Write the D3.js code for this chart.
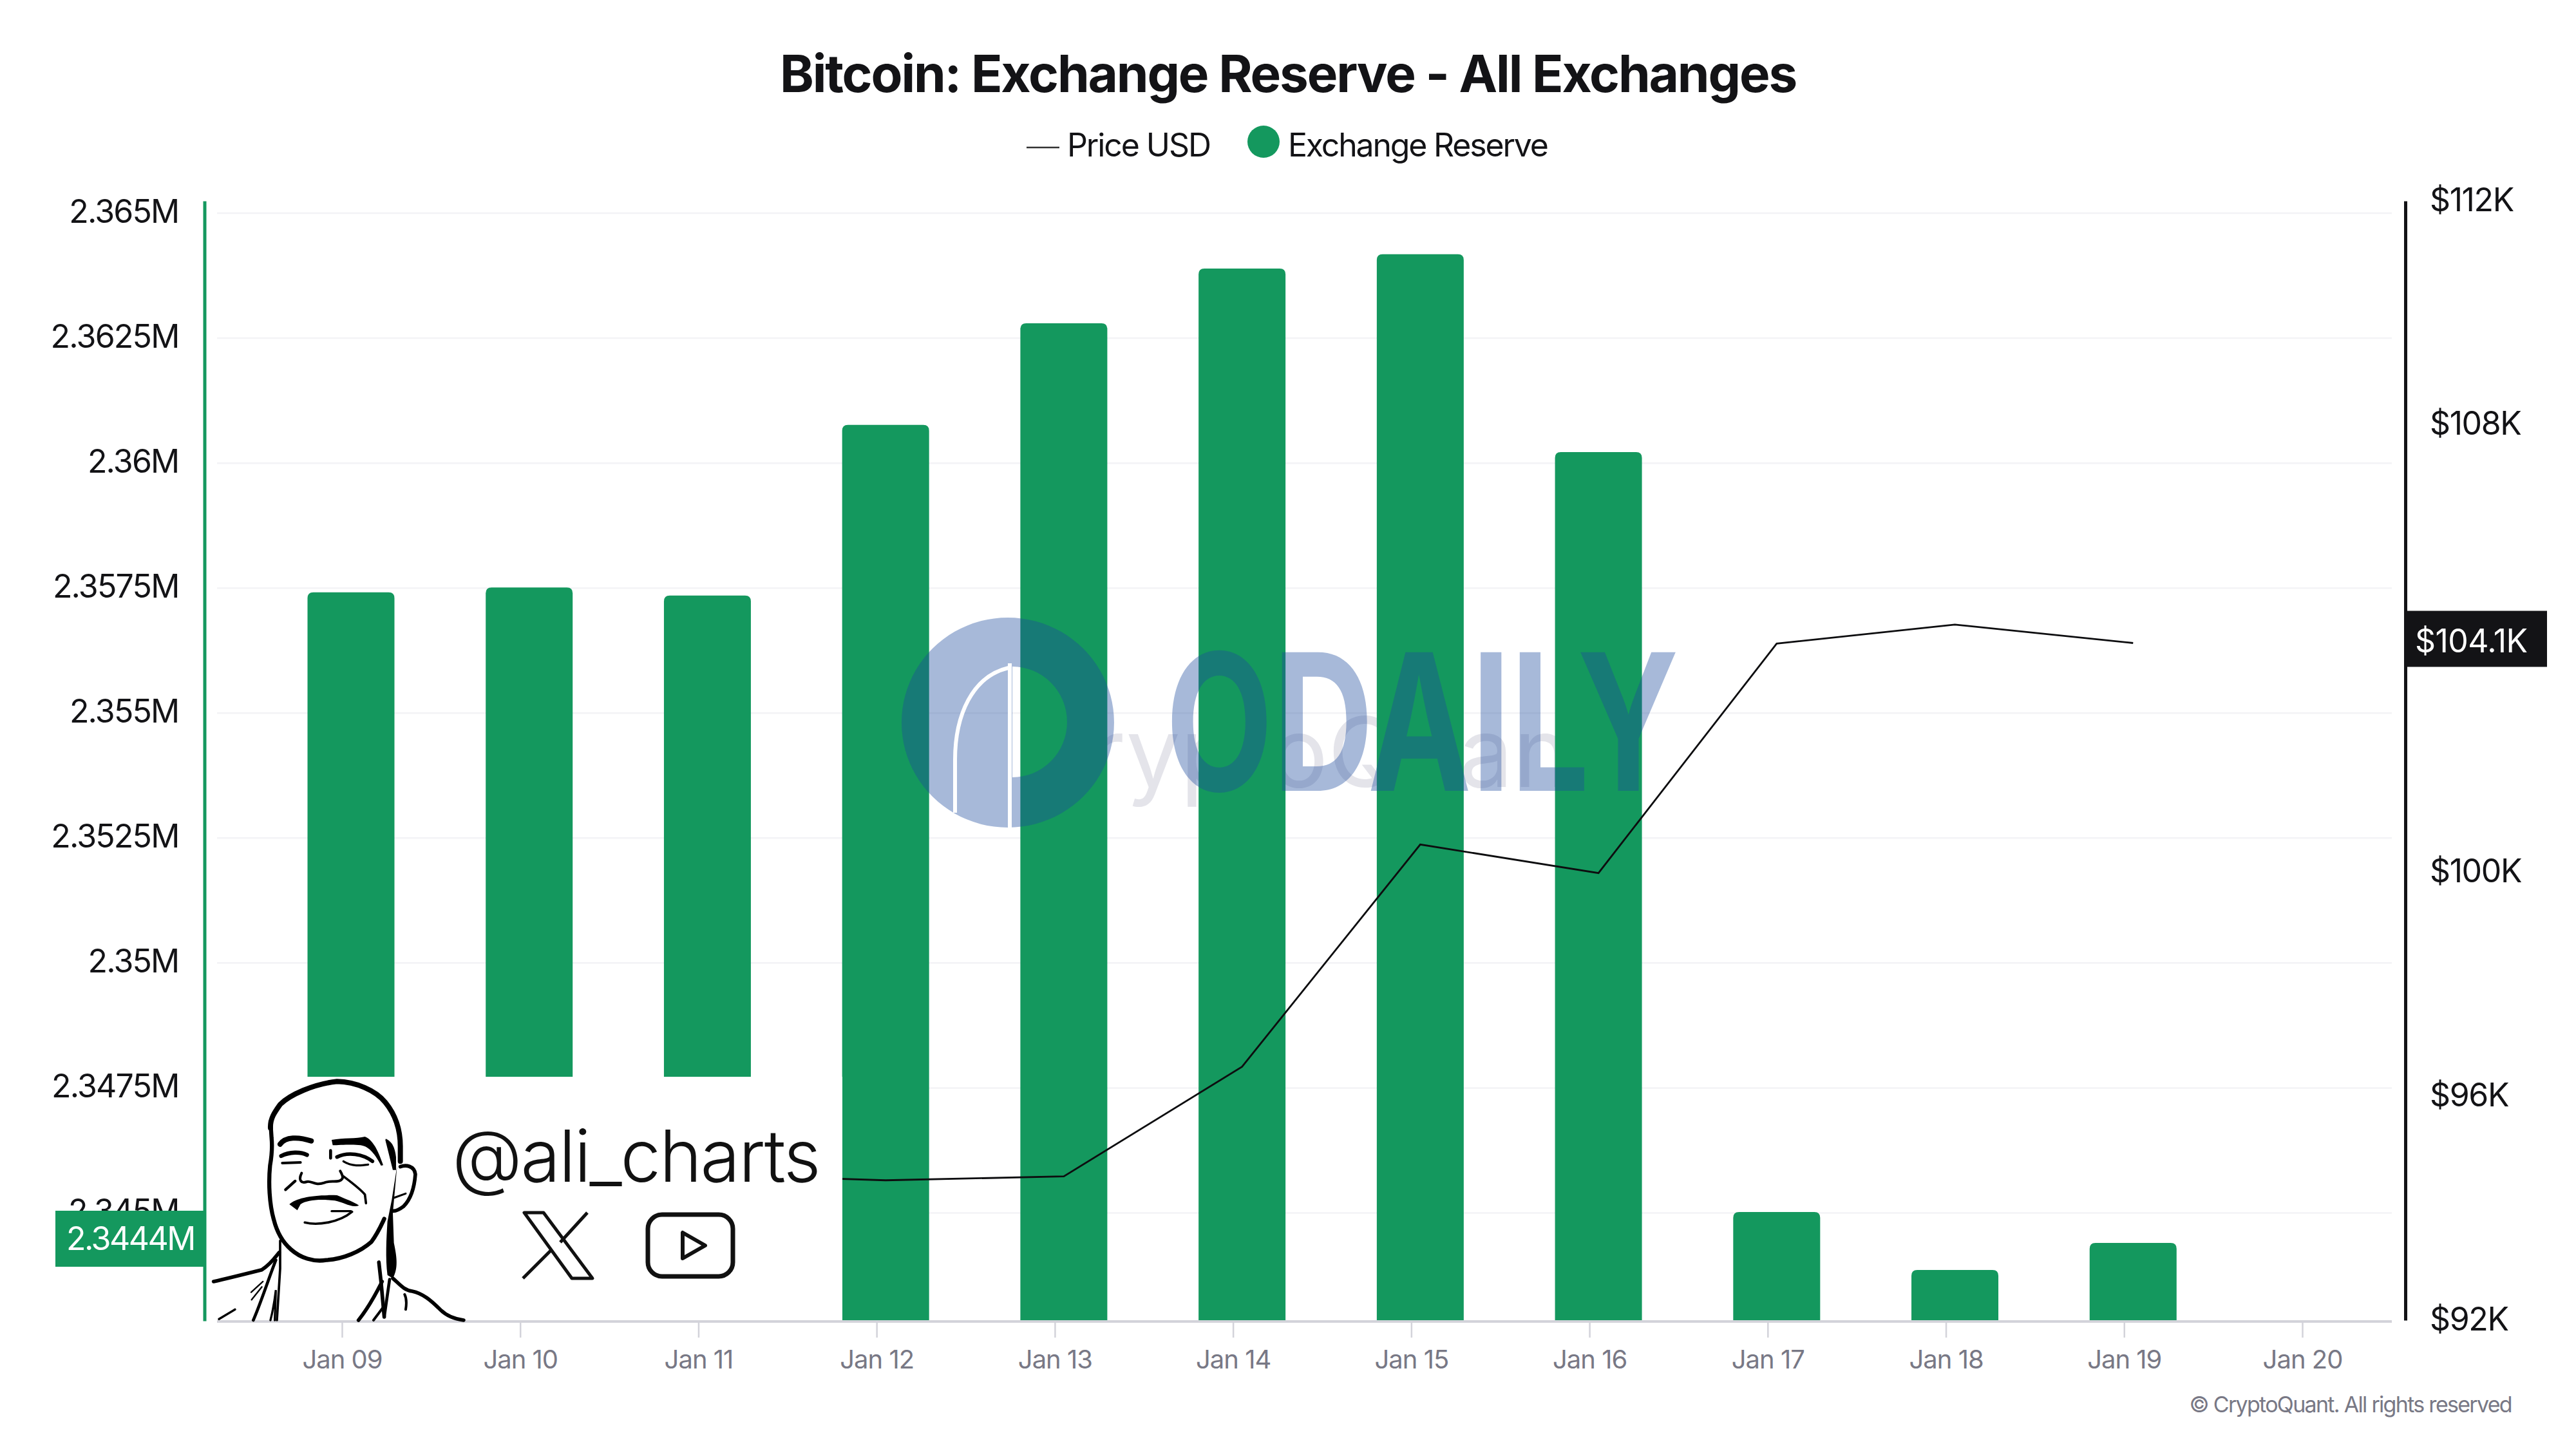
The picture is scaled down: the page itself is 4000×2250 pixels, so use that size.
<!DOCTYPE html>
<html>
<head>
<meta charset="utf-8">
<title>Bitcoin: Exchange Reserve - All Exchanges</title>
<script src="https://cdn.jsdelivr.net/npm/d3@7"></script>
<style>
  html, body { margin: 0; background: #fff; }
  svg { display: block; }
  text { font-family: Inter, "Noto Sans", sans-serif; }
</style>
</head>
<body>
<svg id="chart" width="4000" height="2250"></svg>
<script>
// --- Data ---
const days = ["Jan 09", "Jan 10", "Jan 11", "Jan 12", "Jan 13", "Jan 14", "Jan 15", "Jan 16", "Jan 17", "Jan 18", "Jan 19", "Jan 20"];
const reserve = [2357416, 2357511, 2357351, 2360765, 2362797, 2363892, 2364179, 2360220, 2345018, 2343859, 2344400, null];
// Price before Jan 11 sits behind the white sticker, so it is left out
const price = [null, null, 94.6, 94.5, 94.57, 96.53, 100.5, 99.99, 104.09, 104.43, 104.1, null];
const reserveTicks = [2345000, 2347500, 2350000, 2352500, 2355000, 2357500, 2360000, 2362500, 2365000];
const priceTicks = [92, 96, 100, 108, 112];
const reserveLatest = "2.3444M";
const priceLatest = 104.1;

const GREEN = "#14985e", INK = "#131316", GREY = "#787885";

const svg = d3.select("#chart");
const ls = (em) => `${em}em`;

// --- Scales ---
const x = d3.scalePoint().domain(days).range([545, 3589]);
const yReserve = d3.scaleLinear().domain([2342842, 2365245]).range([2051, 312]);
const yPrice = d3.scaleLinear().domain([92, 112]).range([2050, 312]);

// --- Title + legend ---
svg.append("text").attr("x", 2000).attr("y", 143).attr("text-anchor", "middle")
  .attr("font-size", 80).attr("font-weight", 700).attr("fill", INK)
  .style("letter-spacing", ls(-0.027)).text("Bitcoin: Exchange Reserve - All Exchanges");

svg.append("line").attr("x1", 1594).attr("x2", 1645).attr("y1", 229).attr("y2", 229)
  .attr("stroke", "#333").attr("stroke-width", 2.5);
svg.append("text").attr("x", 1657).attr("y", 243).attr("font-size", 50).attr("fill", INK)
  .style("letter-spacing", ls(-0.042)).text("Price USD");
svg.append("circle").attr("cx", 1962).attr("cy", 220).attr("r", 25).attr("fill", GREEN);
svg.append("text").attr("x", 2000).attr("y", 243).attr("font-size", 50).attr("fill", INK)
  .style("letter-spacing", ls(-0.044)).text("Exchange Reserve");

// --- CryptoQuant watermark, under the bars ---
svg.append("text").attr("x", 1580).attr("y", 1222).attr("font-size", 150).attr("fill", "#e4e4ea")
  .text("CryptoQuant");

// --- Grid ---
svg.append("g").selectAll("line").data(reserveTicks).join("line")
  .attr("x1", 337).attr("x2", 3714)
  .attr("y1", (d) => yReserve(d)).attr("y2", (d) => yReserve(d))
  .attr("stroke", "#f3f3f6").attr("stroke-width", 2.5);

// --- Bars: rounded on top only ---
const barW = 135, barR = 9;
svg.append("g").selectAll("path").data(days.map((d, i) => ({ d, v: reserve[i] })).filter((b) => b.v !== null))
  .join("path")
  .attr("fill", GREEN)
  .attr("d", (b) => {
    const l = x(b.d) - barW / 2, r = l + barW, t = yReserve(b.v), base = yReserve.range()[0];
    return `M${l},${base}V${t + barR}Q${l},${t} ${l + barR},${t}H${r - barR}Q${r},${t} ${r},${t + barR}V${base}Z`;
  });

// --- Price line ---
const priceLine = d3.line().defined((d) => d.p !== null).x((d) => x(d.d)).y((d) => yPrice(d.p));
svg.append("path").datum(days.map((d, i) => ({ d, p: price[i] })))
  .attr("d", priceLine).attr("fill", "none").attr("stroke", "#0d0d0f").attr("stroke-width", 2.8);

// --- ODAILY watermark, over the bars ---
const wm = svg.append("g").attr("fill", "rgb(28,74,156)").attr("fill-opacity", 0.39);
wm.append("path").attr("fill-rule", "evenodd")
  .attr("d", "M1565,959a165,163 0 1,1 -0.1,0Z M1572,1035A84,85 0 0 1 1572,1207Z");
wm.append("text").attr("x", 1810).attr("y", 1228).attr("font-size", 296).attr("font-weight", 700)
  .attr("textLength", 797).attr("lengthAdjust", "spacingAndGlyphs").text("ODAILY");
svg.append("path").attr("fill", "none").attr("stroke", "#fff").attr("stroke-width", 6)
  .attr("d", "M1568,1030V1290 M1566,1037C1510,1050 1483,1110 1483,1180V1262");

// --- White sticker over the lower left of the plot ---
svg.append("rect").attr("x", 322).attr("y", 1672).attr("width", 986).attr("height", 378).attr("fill", "#fff");

// --- Axes ---
const axisLeft = svg.append("g").attr("transform", "translate(317.5,0)")
  .call(d3.axisLeft(yReserve).tickValues(reserveTicks).tickSize(0).tickPadding(40)
    .tickFormat((d) => `${+(d / 1e6).toFixed(4)}M`));
axisLeft.select(".domain").attr("stroke", GREEN).attr("stroke-width", 5);
axisLeft.selectAll("text").attr("dy", 14).attr("font-size", 50).attr("font-family", null)
  .attr("fill", INK).style("letter-spacing", ls(-0.036));

const axisRight = svg.append("g").attr("transform", "translate(3735,0)")
  .call(d3.axisRight(yPrice).tickValues(priceTicks).tickSize(0).tickPadding(38)
    .tickFormat((d) => `$${d}K`));
axisRight.select(".domain").attr("stroke", INK).attr("stroke-width", 5);
axisRight.selectAll("text").attr("dy", 15).attr("font-size", 50).attr("font-family", null)
  .attr("fill", INK).style("letter-spacing", ls(-0.028));

svg.append("line").attr("x1", 337).attr("x2", 3714).attr("y1", 2052).attr("y2", 2052)
  .attr("stroke", "#d3d3da").attr("stroke-width", 4);
const axisBottom = svg.append("g").attr("transform", "translate(-14,2051)")
  .call(d3.axisBottom(x).tickSize(26).tickSizeOuter(0));
axisBottom.select(".domain").remove();
axisBottom.selectAll("line").attr("stroke", "#d3d3da").attr("stroke-width", 2.5);
axisBottom.selectAll("text").attr("y", 74).attr("dy", 0).attr("font-size", 40).attr("font-family", null)
  .attr("fill", GREY).style("letter-spacing", ls(-0.025));

// --- Latest value badges ---
svg.append("rect").attr("x", 86).attr("y", 1880).attr("width", 231).attr("height", 87).attr("fill", GREEN);
svg.append("text").attr("x", 103).attr("y", 1941).attr("font-size", 50).attr("fill", "#fff")
  .style("letter-spacing", ls(-0.05)).text(reserveLatest);
const badgeY = yPrice(priceLatest);
svg.append("rect").attr("x", 3737).attr("y", badgeY - 50).attr("width", 218).attr("height", 87).attr("fill", INK);
svg.append("text").attr("x", 3750).attr("y", badgeY + 14).attr("font-size", 50).attr("fill", "#fff")
  .style("letter-spacing", ls(-0.012)).text(`$${priceLatest}K`);

// --- Footer ---
svg.append("text").attr("x", 3900).attr("y", 2193).attr("text-anchor", "end").attr("font-size", 34)
  .attr("fill", GREY).style("letter-spacing", ls(-0.05)).text("© CryptoQuant. All rights reserved");

// --- Sticker drawing: handle, icons and face ---
svg.append("text").attr("x", 702).attr("y", 1835).attr("font-size", 112).attr("font-weight", 300)
  .attr("fill", "#111").style("letter-spacing", ls(-0.02)).text("@ali_charts");

const icons = svg.append("g").attr("fill", "none").attr("stroke", "#111").attr("stroke-linejoin", "round");
icons.append("path").attr("stroke-width", 5)
  .attr("d", "M814,1883H844L920,1985H888Z M912,1883L870,1929 M857,1940L812,1985");
icons.append("rect").attr("x", 1006).attr("y", 1886).attr("width", 132).attr("height", 96).attr("rx", 22)
  .attr("stroke-width", 7);
icons.append("path").attr("stroke-width", 6).attr("d", "M1060,1914V1954L1095,1934Z");

// face is traced at 3x, [path, stroke width]; width 0 means a filled blob
const faceStrokes = [
  ["M300,245C298,200 320,170 345,135C390,90 500,40 610,28C700,30 790,70 835,125C880,180 905,250 905,330L905,400", 24],
  ["M300,215L305,290C310,340 305,380 298,420C290,500 295,600 315,670C330,730 360,780 395,810C440,850 500,870 560,860C640,855 720,820 770,775C800,735 815,700 830,668", 19],
  ["M345,320C370,285 430,285 490,305", 24],
  ["M350,375C390,355 440,355 470,370", 19],
  ["M355,408L440,405", 12],
  ["M610,380C660,355 730,365 775,400", 17],
  ["M640,400C680,425 720,420 755,415", 10],
  ["M580,350L580,385", 14],
  ["M445,455C430,485 440,505 470,495C490,490 510,515 550,500C580,485 620,505 635,480C640,470 630,455 625,445", 12],
  ["M640,470C680,500 720,530 740,555L745,595", 11],
  ["M370,532L415,492", 13],
  ["M460,685C520,700 620,685 680,635", 11],
  ["M585,632L675,632", 10],
  ["M905,425C930,415 970,420 975,460C970,530 950,580 920,610C900,625 880,635 865,630", 17],
  ["M875,570L930,550", 9],
  ["M805,870L815,960L830,1125", 17],
  ["M855,950L830,1125", 14],
  ["M820,960C790,1020 750,1090 710,1140", 17],
  ["M825,1080L780,1140", 12],
  ["M870,945C900,970 920,1000 960,1005C1010,1015 1050,1050 1090,1090C1120,1120 1160,1135 1200,1140", 17],
  ["M925,1020C935,1040 935,1060 930,1090", 12],
  ["M345,770L345,900L330,1140", 11],
  ["M35,960C100,945 180,925 260,905C300,880 320,850 340,825", 17],
  ["M325,860C290,950 255,1060 220,1140", 14],
  ["M300,1140C310,1100 318,1060 325,1000L320,1140", 10],
  ["M265,960L210,1010", 7],
  ["M260,985L212,1045", 7],
  ["M135,1090L60,1135", 10],
  ["M585,300C640,290 700,295 740,285C780,300 805,360 825,418L815,420C790,370 760,330 720,325C680,320 620,325 590,325Z", 0],
  ["M388,600C420,570 500,555 610,558C650,575 690,590 712,605C680,620 640,590 600,583C530,575 470,580 440,600L425,628Z", 0],
  ["M838,295C870,310 880,340 885,380L885,440L870,440C860,400 850,360 835,300Z", 0],
  ["M890,420L865,580L845,680C840,760 835,850 845,930L870,945C895,900 890,850 875,780L870,640Z", 0],
];
svg.append("g").attr("transform", "translate(320,1670) scale(0.3333)")
  .selectAll("path").data(faceStrokes).join("path")
  .attr("d", (d) => d[0])
  .attr("fill", (d) => d[1] ? "none" : "#000")
  .attr("stroke", (d) => d[1] ? "#000" : "none")
  .attr("stroke-width", (d) => d[1])
  .attr("stroke-linecap", "round");
</script>
</body>
</html>
